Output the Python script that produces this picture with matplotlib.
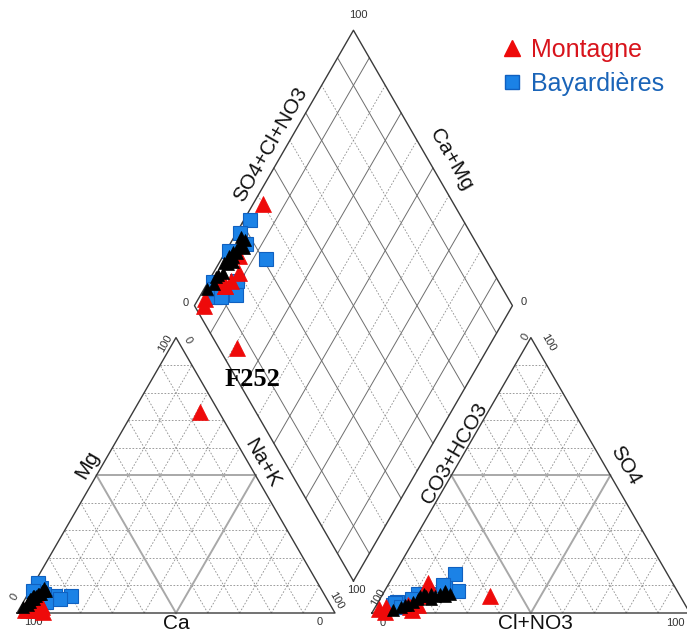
import numpy as np
import matplotlib.pyplot as plt

## sample chemistry in % meq (Ca and HCO3 are the remainders)
## Montagne
mont_mg = [1, 73, 2, 1, 2, 1.5, 3, 2, 0.5, 1]
mont_nak = [3, 21, 3, 6, 7, 5, 6, 4, 8, 2]
mont_so4 = [1.5, 2, 6, 2, 3, 11, 1, 3, 6, 0.5]
mont_cl = [1.5, 3.5, 34, 11, 13, 12, 12, 10, 14, 4]
## Bayardieres
bay_mg = [6, 8, 10, 6, 7, 5, 9, 11, 8, 5, 4]
bay_nak = [14, 2, 1.5, 9, 5, 5, 3, 1, 1, 11, 7]
bay_so4 = [8, 14, 4, 7, 9, 3, 3.5, 7, 10, 5, 2]
bay_cl = [23, 19, 6, 11, 18.5, 5, 5.5, 14, 17.5, 10, 8]
## other samples (black)
oth_mg = [2, 3, 4, 5, 4, 6, 5, 7, 6, 8, 7, 8, 6, 9, 5, 7]
oth_nak = [1, 2, 2, 3, 1.5, 3, 2, 4, 2.5, 4, 3, 5, 2, 4, 1.5, 3.5]
oth_so4 = [1, 2, 3, 4, 5, 6, 6, 7, 7, 6, 7, 6, 8, 7, 3, 5]
oth_cl = [6, 8, 10, 11, 12, 12, 14, 13, 15, 17, 18, 20, 19, 21, 9, 16]

label_F252 = 'F252'

##############################################################
g = 0.116
h = np.sqrt(3)/2

def cat_xy(mg, nak):
    mg = np.asarray(mg, float); nak = np.asarray(nak, float)
    return (nak + mg/2)/100., mg*h/100.

def an_xy(so4, cl):
    so4 = np.asarray(so4, float); cl = np.asarray(cl, float)
    return 1 + g + (cl + so4/2)/100., so4*h/100.

def dia_xy(camg, so4cl):
    a = np.asarray(camg, float)/100.; b = np.asarray(so4cl, float)/100.
    return 1 + g/2 - a/2 + b/2, g*h + h*(a + b)

def P(x, y):
    ## pixel position -> axes data coords (for text only)
    return (x - 17)/318., (613 - y)/318.

fig = plt.figure(figsize=(6.87, 6.34), dpi=100)
ax = fig.add_axes([0, 0, 1, 1])
ax.set_xlim(-17/318., 670/318.)
ax.set_ylim(-21/318., 613/318.)
ax.axis('off')

dash = dict(color='#8c8c8c', lw=0.6, ls=(0, (2, 2)), zorder=1)
mid = dict(color='#a8a8a8', lw=1.4, zorder=1)
edge = dict(color='#3a3a3a', lw=1.0, zorder=2)

## triangles
for fxy in (cat_xy, an_xy):
    for t in range(10, 100, 10):
        st = mid if t == 50 else dash
        x, y = fxy([t, t], [0, 100 - t]); ax.plot(x, y, **st)
        x, y = fxy([0, 100 - t], [t, t]); ax.plot(x, y, **st)
        x, y = fxy([0, 100 - t], [100 - t, 0]); ax.plot(x, y, **st)
    x, y = fxy([0, 0, 100, 0], [0, 100, 0, 0]); ax.plot(x, y, **edge)

## diamond
for t in range(10, 100, 10):
    st = dict(color='#6e6e6e', lw=0.7, zorder=1) if t % 20 else dash
    x, y = dia_xy([t, t], [0, 100]); ax.plot(x, y, **st)
    x, y = dia_xy([0, 100], [t, t]); ax.plot(x, y, **st)
x, y = dia_xy([0, 100, 100, 0, 0], [0, 0, 100, 100, 0]); ax.plot(x, y, **edge)

## points
def plot_group(mg, nak, so4, cl, **kw):
    mg = np.array(mg, float); nak = np.array(nak, float)
    so4 = np.array(so4, float); cl = np.array(cl, float)
    xs, ys = [], []
    for x, y in (cat_xy(mg, nak), an_xy(so4, cl), dia_xy(100 - nak, so4 + cl)):
        xs.append(x); ys.append(y)
    ax.plot(np.concatenate(xs), np.concatenate(ys), ls='none', **kw)

plot_group(bay_mg, bay_nak, bay_so4, bay_cl, marker='s', ms=10, mfc='#1b82e6',
           mec='#1060c0', mew=0.8, zorder=4)
plot_group(mont_mg, mont_nak, mont_so4, mont_cl, marker='^', ms=11, mfc='#ee0a0a',
           mec='#ee0a0a', mew=0.5, zorder=5)
plot_group(oth_mg, oth_nak, oth_so4, oth_cl, marker='^', ms=9, mfc='black',
           mec='black', mew=0.5, zorder=6)

## F252 label
ax.text(*P(252, 380), label_F252, fontsize=19, fontweight='bold',
        family='Liberation Serif', ha='center', va='center', zorder=7)

## axis titles
lab = dict(fontsize=15, family='Liberation Sans', color='#111111', ha='center', va='center')
ax.text(*P(271, 144), 'SO4+Cl+NO3', rotation=60, **lab)
ax.text(*P(451, 160), 'Ca+Mg', rotation=-60, **lab)
ax.text(*P(87, 465), 'Mg', rotation=60, **lab)
ax.text(*P(262, 463), 'Na+K', rotation=-60, **lab)
ax.text(*P(454, 453), 'CO3+HCO3', rotation=60, **lab)
ax.text(*P(625, 465), 'SO4', rotation=-60, **lab)
lab['va'] = 'bottom'
ax.text(*P(176, 633), 'Ca', **lab)
ax.text(*P(535, 633), 'Cl+NO3', **lab)

## tick labels
tk = dict(fontsize=8, family='Liberation Sans', color='#333333', ha='center', va='center')
ax.text(*P(358, 15), '100', **tk)
ax.text(*P(186, 303), '0', **tk)
ax.text(*P(524, 302), '0', **tk)
ax.text(*P(356, 590), '100', **tk)
ax.text(*P(33, 622), '100', **tk)
ax.text(*P(320, 622), '0', **tk)
ax.text(*P(15, 597), '0', rotation=60, **tk)
ax.text(*P(165, 343), '100', rotation=60, **tk)
ax.text(*P(188, 340), '0', rotation=-60, **tk)
ax.text(*P(336, 601), '100', rotation=-60, **tk)
ax.text(*P(383, 623), '0', **tk)
ax.text(*P(675, 623), '100', **tk)
ax.text(*P(378, 597), '100', rotation=60, **tk)
ax.text(*P(526, 337), '0', rotation=60, **tk)
ax.text(*P(548, 343), '100', rotation=-60, **tk)

## legend
hm, = ax.plot([], [], ls='none', marker='^', ms=12, mfc='#ee0a0a', mec='#ee0a0a')
hb, = ax.plot([], [], ls='none', marker='s', ms=10, mfc='#1b82e6', mec='#1060c0')
leg = ax.legend([hm, hb], ['Montagne', 'Bayardières'], loc='upper left',
                bbox_to_anchor=(502/687., 1 - 38/634.), frameon=False,
                prop={'family': 'Liberation Sans', 'size': 18}, handlelength=0.8,
                handletextpad=0.35, labelspacing=0.38, borderpad=0, borderaxespad=0)
leg.get_texts()[0].set_color('#d8141c')
leg.get_texts()[1].set_color('#1a64b8')

plt.savefig('out.png', dpi=100)
